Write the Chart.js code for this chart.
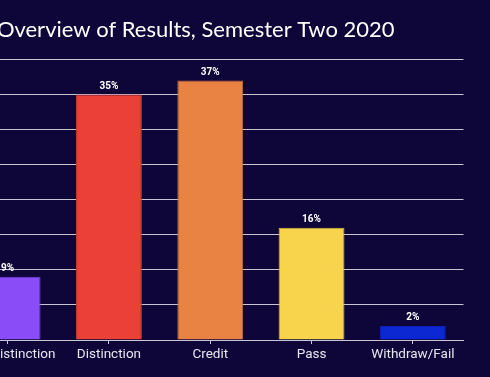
<!DOCTYPE html>
<html>
<head>
<meta charset="utf-8">
<script src="https://cdn.jsdelivr.net/npm/chart.js@4"></script>
<style>
  html, body { margin: 0; padding: 0; background: #0e0639; overflow: hidden; }
  #wrap { position: absolute; left: -72px; top: 0; width: 562px; height: 377px; }
</style>
</head>
<body>
<div id="wrap"><canvas id="resultsChart"></canvas></div>
<script>
const categories = ['High Distinction', 'Distinction', 'Credit', 'Pass', 'Withdraw/Fail'];
const percentages = [9, 35, 37, 16, 2];
const barColours = ['#8a4cf6', '#ea4037', '#e88343', '#f8d44d', '#0c28d3'];
const borderColours = ['#7440d8', '#c93530', '#c96f38', '#d8b943', '#0a22b5'];
const yTicks = [0, 5, 10, 15, 20, 25, 30, 35, 40];

// draws the "35%" style labels above each bar
const valueLabels = {
    id: 'valueLabels',
    afterDatasetsDraw(chart) {
        const ctx = chart.ctx;
        const meta = chart.getDatasetMeta(0);
        ctx.save();
        ctx.fillStyle = '#ffffff';
        ctx.font = 'bold 10px Roboto';
        ctx.textAlign = 'center';
        ctx.textBaseline = 'bottom';
        meta.data.forEach((bar, i) => {
            ctx.fillText(percentages[i] + '%', bar.x, bar.y - 3);
        });
        ctx.restore();
    }
};

const ctx = document.getElementById('resultsChart').getContext('2d');
const myChart = new Chart(ctx, {
    type: 'bar',
    data: {
        labels: categories,
        datasets: [{
            data: percentages,
            backgroundColor: barColours,
            borderColor: borderColours,
            borderWidth: 1,
            categoryPercentage: 1,
            barPercentage: 0.65
        }]
    },
    options: {
        responsive: true,
        maintainAspectRatio: false,
        animation: false,
        layout: { padding: { left: 0, right: 26.5, top: 0, bottom: 0 } },
        plugins: {
            legend: { display: false },
            tooltip: { enabled: false },
            title: {
                display: true,
                text: 'Overview of Results, Semester Two 2020',
                color: '#ffffff',
                font: { family: 'Lato', size: 22, weight: 'normal' },
                padding: { top: 17, bottom: 16 }
            }
        },
        scales: {
            x: {
                grid: {
                    display: true,
                    drawOnChartArea: false,
                    drawTicks: true,
                    offset: false,
                    tickLength: 4,
                    color: '#c8c5d5'
                },
                border: { color: '#c8c5d5' },
                ticks: {
                    color: '#e8e6ef',
                    font: { family: 'Roboto', size: 13.5 },
                    padding: 3,
                    maxRotation: 0,
                    minRotation: 0,
                    autoSkip: false
                },
                afterFit(scale) {
                    scale.height = 37;
                    scale.paddingLeft = 0;
                    scale.paddingRight = 0;
                }
            },
            y: {
                min: 0,
                max: 40,
                ticks: { display: false, stepSize: 5 },
                afterBuildTicks(scale) { scale.ticks = yTicks.map(v => ({ value: v })); },
                grid: { color: '#c8c5d5', drawTicks: false },
                border: { display: false },
                afterFit(scale) { scale.width = 29; }
            }
        }
    },
    plugins: [valueLabels]
});
</script>
</body>
</html>
